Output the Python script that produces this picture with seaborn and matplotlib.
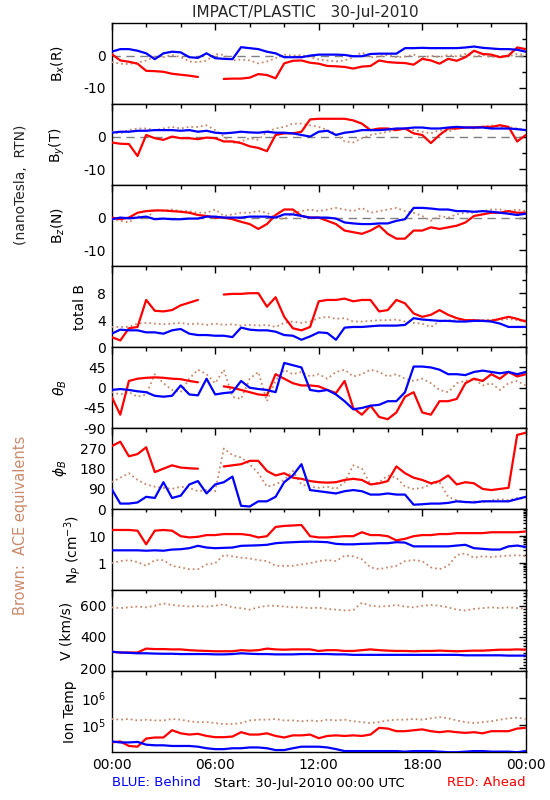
import numpy as np
import pandas as pd
import matplotlib
matplotlib.use("Agg")
import matplotlib.pyplot as plt
import seaborn as sns
from matplotlib.ticker import FixedLocator, FixedFormatter, MultipleLocator, LogLocator, NullFormatter

# time grid (hours since 30-Jul-2010 00:00), 30 min sampling
hours = np.arange(49) * 0.5
nan = np.nan

# ---- B_x (R) ----
bx_ace = [-2.0, -2.5, -2.6, -2.2, -1.5, -0.3, -0.5, 0.2, -0.5, -1.8, -2.0, -1.6, 0.5, 0.2, -1.5, -1.2,
          -1.5, -2.4, -1.8, -0.8, 0.3, 0.0, 0.2, -0.5, -1.2, -1.5, -1.8, -1.5, -0.5, 1.0, -0.5, -0.3,
          0.2, -0.5, -0.3, 0.3, -0.8, 0.0, -0.5, 0.2, -0.2, 0.5, -0.3, 0.2, -0.5, 0.0, -0.3, 0.5, 0.2]
bx_ahead = [0.5, -1.5, -1.9, -2.5, -4.7, -4.8, -5.0, -5.6, -5.9, -6.2, -6.6, nan, nan, -7.2, -7.1, -7.1,
            -6.8, -5.7, -6.0, -7.0, -2.4, -1.6, -1.5, -2.2, -2.5, -3.2, -3.3, -3.5, -4.0, -3.4, -3.2, -1.5,
            -2.0, -2.2, -2.3, -2.8, -1.0, -1.5, -2.5, -1.0, -1.6, -0.5, 1.5, 0.5, 0.3, -0.5, 0.0, 2.5, 2.0]
bx_behind = [1.2, 2.0, 2.0, 1.5, 0.7, -1.1, 0.7, 1.2, 1.0, -0.5, -0.7, 0.7, -0.8, -1.0, -1.1, 2.6,
             2.3, 2.0, 1.2, 0.7, -0.5, -0.5, -0.5, 0.0, 0.3, 0.3, 0.3, 0.2, -0.2, -0.2, 0.5, 0.6,
             0.6, 0.6, 2.3, 2.3, 2.4, 2.3, 2.3, 2.3, 2.3, 2.5, 2.8, 2.4, 2.2, 2.0, 2.0, 1.8, 1.2]

# ---- B_y (T) ----
by_ace = [1.5, 1.0, 2.0, 2.5, 2.5, 2.0, 2.5, 3.0, 2.5, 3.0, 3.0, 3.5, 2.0, 0.0, -2.0, -1.5,
          -0.5, -1.0, 1.5, 2.5, 3.0, 4.0, 4.0, 3.5, 3.0, 2.0, 1.0, -1.5, -1.8, -0.5, 0.5, 1.0,
          1.5, 2.0, 2.5, 2.0, 1.5, 1.0, 2.0, 1.5, 2.5, 3.0, 2.5, 3.0, 3.5, 3.0, 3.0, 2.5, 2.0]
by_ahead = [-1.8, -2.2, -2.3, -6.0, 0.5, -0.5, -1.0, 0.0, -0.5, -0.5, -0.8, -0.3, -0.5, -1.5, -1.5, -2.0,
            -3.0, -3.5, -4.5, 0.5, 1.0, 1.0, 1.5, 5.3, 5.5, 5.5, 5.5, 5.5, 5.0, 4.0, 2.0, 2.5,
            2.5, 2.0, 2.5, 1.0, 0.5, -2.0, 0.5, 2.5, 2.5, 2.8, 2.8, 3.0, 3.0, 3.5, 3.0, -1.5, 0.5]
by_behind = [1.2, 1.5, 1.5, 1.8, 1.8, 2.0, 2.0, 2.0, 1.8, 2.0, 1.5, 1.8, 1.2, 1.0, 1.2, 1.5,
             1.3, 1.2, 1.5, 1.2, 1.2, 1.0, 0.5, 0.0, 1.5, 1.8, 0.5, 1.2, 1.5, 2.0, 2.0, 2.0,
             2.2, 2.5, 2.5, 2.8, 2.8, 2.5, 2.5, 2.8, 3.0, 2.8, 2.8, 2.8, 2.5, 2.5, 2.5, 2.3, 2.0]

# ---- B_z (N) ----
bz_ace = [-0.5, -1.0, -1.5, 0.5, -0.5, 2.5, 2.0, 2.5, 2.0, 2.0, 1.5, 1.5, 2.5, 0.5, 1.0, 1.5,
          1.5, 2.0, 1.5, 0.0, -0.5, 1.5, 2.0, 2.5, 2.0, 2.5, 3.0, 2.5, 2.0, 3.0, 1.5, 2.0,
          2.5, 3.0, 2.0, 1.5, 0.5, -1.0, 0.5, 0.0, 1.0, 1.5, 1.5, 2.0, 2.5, 2.5, 2.0, 2.5, 2.0]
bz_ahead = [0.0, -0.5, 0.0, 1.5, 2.0, 2.2, 2.2, 2.0, 1.8, 1.5, 0.8, 0.5, 0.0, 0.0, -0.5, -1.3,
            -2.0, -3.5, -2.0, 0.8, 2.5, 2.5, 0.5, 0.0, 0.0, -1.0, -2.0, -4.0, -4.5, -5.0, -4.0, -2.5,
            -5.0, -6.5, -6.5, -4.0, -4.0, -3.0, -3.5, -3.0, -2.5, -1.5, 0.5, 1.0, 1.5, 1.5, 2.0, 1.5, 1.5]
bz_behind = [-0.5, 0.0, -0.2, 0.0, 0.3, -0.5, -0.3, -0.5, -0.5, -0.3, -0.3, 0.3, 0.3, 0.0, 0.0, 0.0,
             0.3, 0.3, 0.3, 0.0, 1.0, 1.0, 0.5, 0.0, 0.0, 0.0, -0.3, -1.5, -1.8, -2.0, -2.0, -1.8,
             -1.8, -1.0, -0.5, 3.0, 3.0, 2.8, 2.5, 2.5, 2.0, 2.0, 1.8, 2.0, 1.8, 1.5, 1.2, 0.8, 1.2]

# ---- total B ----
bt_ace = [3.0, 3.0, 3.0, 3.5, 3.6, 3.5, 3.4, 3.5, 3.6, 3.4, 3.5, 3.3, 3.5, 3.3, 3.4, 3.2,
          3.3, 3.2, 3.3, 3.0, 3.6, 3.8, 3.6, 3.8, 4.3, 4.5, 4.2, 4.3, 3.8, 3.8, 3.9, 4.0,
          4.0, 4.1, 3.8, 3.6, 3.5, 3.0, 3.8, 4.0, 4.0, 3.9, 4.0, 4.0, 4.1, 4.0, 4.2, 4.0, 3.9]
bt_ahead = [1.5, 1.0, 2.8, 3.0, 7.0, 5.4, 5.3, 5.5, 6.2, 6.6, 7.0, nan, nan, 7.8, 7.9, 7.9,
            8.0, 8.0, 6.0, 7.4, 4.5, 2.8, 2.5, 3.0, 6.8, 7.0, 7.0, 7.2, 6.8, 7.0, 7.0, 5.3,
            5.5, 7.0, 6.5, 5.0, 4.5, 4.8, 5.5, 4.8, 4.3, 4.0, 4.0, 3.9, 3.9, 4.2, 4.5, 4.2, 3.8]
bt_behind = [2.0, 2.6, 2.5, 2.5, 2.2, 2.2, 2.0, 2.5, 2.7, 2.0, 1.8, 1.8, 1.7, 1.7, 1.5, 2.9,
             2.6, 2.5, 2.5, 2.3, 1.8, 1.7, 1.1, 1.6, 2.2, 2.1, 1.1, 2.9, 3.0, 3.0, 3.1, 3.2,
             3.2, 3.2, 3.3, 4.3, 4.1, 4.0, 3.9, 3.9, 3.8, 3.8, 3.9, 3.9, 3.8, 3.5, 3.0, 3.0, 3.0]

# ---- theta_B (deg) ----
th_ace = [-10, -15, -10, -20, -15, 30, 10, -5, -10, 20, 40, 30, 10, 40, -20, -25,
          20, 35, -30, 15, 40, 30, 35, 25, 30, 20, 35, 40, 25, 30, 40, 35,
          25, 30, 20, 15, 20, 10, -5, -10, 10, 15, 20, 5, 10, -5, 10, 15, 5]
th_ahead = [-20, -60, 15, 20, 22, 23, 22, 20, 19, 15, 12, nan, nan, 3, 0, -5,
            -10, -15, -17, 30, 20, 10, 5, 5, 3, -5, -12, 15, -45, -60, -40, -65,
            -70, -55, -20, -10, -55, -60, -30, -30, -25, 10, 20, 15, 30, 20, 35, 25, 30]
th_behind = [-5, -3, -5, -8, -10, -18, -20, -18, 5, -15, -17, 20, -15, -12, -10, 15,
             0, -3, -5, -10, 55, 50, 45, -5, -8, -5, -15, -30, -48, -45, -40, -38,
             -30, -30, -10, 47, 47, 45, 40, 30, 30, 28, 35, 38, 35, 32, 35, 30, 35]

# ---- phi_B (deg) ----
ph_ace = [120, 140, 160, 130, 110, 100, 95, 90, 100, 95, 80, 85, 80, 270, 240, 230,
          200, 160, 100, 110, 130, 170, 110, 100, 95, 100, 90, 120, 195, 180, 110, 120,
          150, 140, 100, 90, 95, 110, 120, 55, 40, 30, 35, 30, 40, 45, 40, 50, 45]
ph_ahead = [280, 300, 235, 245, 275, 165, 180, 195, 185, 182, 180, nan, nan, 190, 195, 200,
            215, 215, 170, 150, 160, 140, 135, 125, 120, 118, 120, 130, 135, 130, 110, 115,
            125, 190, 160, 140, 130, 115, 125, 150, 110, 120, 115, 90, 85, 90, 95, 330, 340]
ph_behind = [90, 25, 25, 30, 55, 50, 120, 50, 60, 110, 125, 70, 110, 120, 145, 15,
             12, 35, 35, 55, 120, 150, 200, 85, 80, 75, 70, 80, 85, 80, 65, 65,
             70, 65, 65, 20, 22, 25, 25, 28, 35, 32, 30, 35, 35, 35, 35, 45, 55]

# ---- N_P (cm^-3) ----
np_ace = [1.0, 1.2, 1.3, 1.1, 0.8, 1.3, 1.3, 0.8, 0.7, 0.6, 0.6, 0.9, 1.0, 2.0, 1.8, 1.6,
          1.5, 1.3, 1.2, 0.8, 0.8, 0.8, 0.9, 1.0, 1.2, 1.3, 1.2, 1.9, 1.8, 1.4, 0.7, 0.6,
          0.7, 0.8, 1.2, 1.3, 1.2, 0.7, 0.6, 0.8, 2.0, 2.3, 1.6, 1.8, 1.7, 1.8, 1.9, 2.0, 1.8]
np_ahead = [17, 17, 17, 16, 5, 16, 17, 16, 10, 9, 9.5, 11, 11, 12, 12, 12,
            11, 9, 10, 22, 24, 25, 26, 10, 9, 9, 9.5, 10, 10, 14, 11, 11,
            10, 7, 8, 10, 11, 11, 12, 12, 13, 13, 13, 13, 14, 14, 14, 14, 15]
np_behind = [3.0, 3.0, 3.0, 3.0, 2.9, 3.0, 2.9, 3.2, 3.3, 3.6, 4.4, 3.8, 3.6, 3.7, 3.8, 4.4,
             4.5, 4.6, 4.8, 5.5, 5.8, 6.0, 6.2, 6.3, 6.2, 6.0, 5.2, 5.0, 5.0, 5.2, 5.3, 5.5,
             5.5, 6.0, 5.8, 4.2, 4.2, 4.2, 4.2, 4.2, 4.5, 4.8, 3.6, 3.4, 3.2, 3.2, 4.2, 4.5, 4.0]

# ---- V (km/s) ----
v_ace = [590, 585, 590, 595, 590, 600, 615, 605, 600, 595, 598, 595, 600, 610, 590, 585,
         575, 590, 600, 600, 595, 590, 590, 585, 588, 580, 575, 570, 572, 620, 600, 595,
         598, 605, 595, 590, 600, 605, 600, 590, 575, 570, 580, 585, 590, 585, 590, 585, 580]
v_ahead = [305, 300, 300, 300, 325, 322, 322, 320, 320, 315, 312, 310, 308, 308, 308, 315,
           312, 315, 325, 320, 318, 320, 320, 320, 310, 315, 315, 310, 310, 315, 320, 315,
           312, 310, 310, 308, 310, 310, 312, 310, 308, 310, 312, 312, 315, 318, 318, 320, 318]
v_behind = [305, 300, 298, 295, 295, 293, 292, 292, 290, 290, 290, 290, 288, 288, 290, 295,
            292, 290, 290, 288, 288, 288, 290, 290, 290, 290, 288, 288, 285, 285, 285, 285,
            285, 285, 285, 285, 285, 285, 285, 285, 285, 282, 282, 282, 282, 282, 280, 280, 280]

# ---- Ion temperature (K) ----
t_ace = [1.7e5, 1.6e5, 1.7e5, 1.5e5, 1.6e5, 1.5e5, 1.5e5, 1.7e5, 1.6e5, 1.4e5, 1.3e5, 1.3e5, 1.2e5,
         1.1e5, 1.1e5, 1.2e5, 1.5e5, 1.6e5, 1.6e5, 1.7e5, 1.5e5, 1.5e5, 1.4e5, 1.5e5, 1.4e5, 1.6e5,
         1.5e5, 1.6e5, 1.4e5, 1.3e5, 1.2e5, 1.3e5, 1.5e5, 1.6e5, 1.6e5, 1.7e5, 1.6e5, 1.8e5, 2.0e5,
         1.8e5, 1.5e5, 1.3e5, 1.2e5, 1.3e5, 1.4e5, 1.6e5, 1.8e5, 1.9e5, 1.7e5]
t_ahead = [2.3e4, 2.5e4, 1.7e4, 1.6e4, 3.2e4, 3.5e4, 3.5e4, 6.5e4, 5.0e4, 4.5e4, 4.8e4, 4.0e4, 3.6e4,
           3.6e4, 3.8e4, 5.5e4, 4.5e4, 4.5e4, 5.0e4, 4.0e4, 3.5e4, 4.2e4, 4.2e4, 4.5e4, 3.3e4, 4.0e4,
           4.2e4, 4.0e4, 4.2e4, 4.0e4, 4.5e4, 8.0e4, 7.5e4, 6.0e4, 6.0e4, 6.5e4, 7.0e4, 6.0e4, 5.5e4,
           6.0e4, 5.5e4, 5.2e4, 5.5e4, 5.0e4, 6.0e4, 6.0e4, 6.0e4, 7.5e4, 8.0e4]
t_behind = [2.5e4, 2.3e4, 2.3e4, 2.4e4, 1.9e4, 1.8e4, 1.8e4, 1.7e4, 1.7e4, 1.7e4, 1.6e4, 1.4e4, 1.3e4,
            1.3e4, 1.4e4, 1.4e4, 1.5e4, 1.5e4, 1.4e4, 1.2e4, 1.2e4, 1.4e4, 1.6e4, 1.6e4, 1.6e4, 1.5e4,
            1.3e4, 1.1e4, 1.1e4, 1.1e4, 1.1e4, 1.1e4, 1.1e4, 1.1e4, 1.05e4, 1.1e4, 1.1e4, 1.1e4, 1.05e4,
            1.0e4, 1.0e4, 1.05e4, 1.1e4, 1.1e4, 1.05e4, 1.05e4, 1.05e4, 1.0e4, 1.1e4]

BROWN = "#c98a6c"
RED = "#ff0000"
BLUE = "#0000ff"

sns.set_theme(style="white")
plt.rcParams["font.family"] = ["DejaVu Sans"]
plt.rcParams["axes.unicode_minus"] = False
plt.rcParams["axes.linewidth"] = 1.0


def draw(ax, vals, color, dotted=False):
    v = np.asarray(vals, dtype=float)
    df = pd.DataFrame({"t": hours, "v": v, "seg": np.cumsum(np.isnan(v))}).dropna()
    sns.lineplot(data=df, x="t", y="v", units="seg", estimator=None, color=color,
                 lw=1.3 if dotted else 1.6, ls=":" if dotted else "-",
                 legend=False, ax=ax, zorder=3)


# label, series, ylim, log, major ticks, tick labels, minor ticks, ylabel x-pos, zero line
panels = [
    ("B$_x$(R)", (bx_ace, bx_ahead, bx_behind), (-15, 10), False, [-10, 0], ["-10", "0"], [-5, 5], -0.108, True),
    ("B$_y$(T)", (by_ace, by_ahead, by_behind), (-15, 10), False, [-10, 0], ["-10", "0"], [-5, 5], -0.108, True),
    ("B$_z$(N)", (bz_ace, bz_ahead, bz_behind), (-15, 10), False, [-10, 0], ["-10", "0"], [-5, 5], -0.108, True),
    ("total B", (bt_ace, bt_ahead, bt_behind), (0, 12), False, [0, 4, 8], ["0", "4", "8"], [2, 6, 10], -0.06, False),
    (r"$\theta_B$", (th_ace, th_ahead, th_behind), (-90, 90), False, [-90, -45, 0, 45], ["-90", "-45", "0", "45"], [], -0.102, False),
    (r"$\phi_B$", (ph_ace, ph_ahead, ph_behind), (0, 360), False, [0, 90, 180, 270], ["0", "90", "180", "270"], [], -0.102, False),
    ("N$_P$ (cm$^{-3}$)", (np_ace, np_ahead, np_behind), (0.1, 100), True, [1, 10], ["1", "10"], None, -0.07, False),
    ("V (km/s)", (v_ace, v_ahead, v_behind), (180, 700), False, [200, 400, 600], ["200", "400", "600"], "v", -0.093, False),
    ("Ion Temp", (t_ace, t_ahead, t_behind), (1e4, 1e7), True, [1e5, 1e6], ["10$^5$", "10$^6$"], [], -0.084, False),
]

fig = plt.figure(figsize=(5.5, 8), dpi=100)
left, width = 0.203, 0.753
top, ph = 0.971, 0.10125

for i, (label, (ace, ahead, behind), ylim, logy, yt, ytl, yminor, labx, zero) in enumerate(panels):
    ax = fig.add_axes([left, top - (i + 1) * ph, width, ph])
    if logy:
        ax.set_yscale("log")
    if zero:
        ax.axhline(0, color="#808080", lw=1, ls=(0, (6, 4)), zorder=1)
    draw(ax, ace, BROWN, dotted=True)
    draw(ax, ahead, RED)
    draw(ax, behind, BLUE)
    ax.set_xlim(0, 24)
    ax.set_ylim(*ylim)
    ax.yaxis.set_major_locator(FixedLocator(yt))
    ax.yaxis.set_major_formatter(FixedFormatter(ytl))
    if yminor is None:
        ax.yaxis.set_minor_locator(LogLocator(base=10, subs=np.arange(2, 10)))
        ax.yaxis.set_minor_formatter(NullFormatter())
    elif yminor == "v":
        ax.yaxis.set_minor_locator(MultipleLocator(20))
    else:
        ax.yaxis.set_minor_locator(FixedLocator(yminor))
        ax.yaxis.set_minor_formatter(NullFormatter())
    ax.xaxis.set_major_locator(FixedLocator([0, 6, 12, 18, 24]))
    ax.xaxis.set_minor_locator(MultipleLocator(2))
    if i == len(panels) - 1:
        ax.xaxis.set_major_formatter(FixedFormatter(["00:00", "06:00", "12:00", "18:00", "00:00"]))
    else:
        ax.set_xticklabels([])
    ax.tick_params(which="both", direction="in", top=True, right=True, colors="black",
                   labelsize=10, pad=4)
    ax.tick_params(which="major", length=5, width=1)
    ax.tick_params(which="minor", length=3 if yminor not in (None, "v") else 2.5, width=1)
    ax.set_xlabel("")
    ax.set_ylabel(label, fontsize=10, color="black")
    ax.yaxis.set_label_coords(labx, 0.5)
    for s in ax.spines.values():
        s.set_color("black")
        s.set_linewidth(1)

fig.text(0.555, 0.985, "IMPACT/PLASTIC   30-Jul-2010", ha="center", va="center", fontsize=11)
fig.text(0.038, 1 - 185 / 800, "(nanoTesla,  RTN)", rotation=90, ha="center", va="center", fontsize=10)
fig.text(0.038, 1 - 525 / 800, "Brown:  ACE equivalents", rotation=90, ha="center", va="center",
         fontsize=10.5, color=BROWN)
fig.text(left, 1 - 783 / 800, "BLUE: Behind", ha="left", va="center", fontsize=9.5, color=BLUE)
fig.text(0.562, 1 - 783 / 800, "Start: 30-Jul-2010 00:00 UTC", ha="center", va="center",
         fontsize=9.5, color="black")
fig.text(left + width, 1 - 783 / 800, "RED: Ahead", ha="right", va="center", fontsize=9.5, color=RED)

fig.savefig("out.png", dpi=100, facecolor="white")
